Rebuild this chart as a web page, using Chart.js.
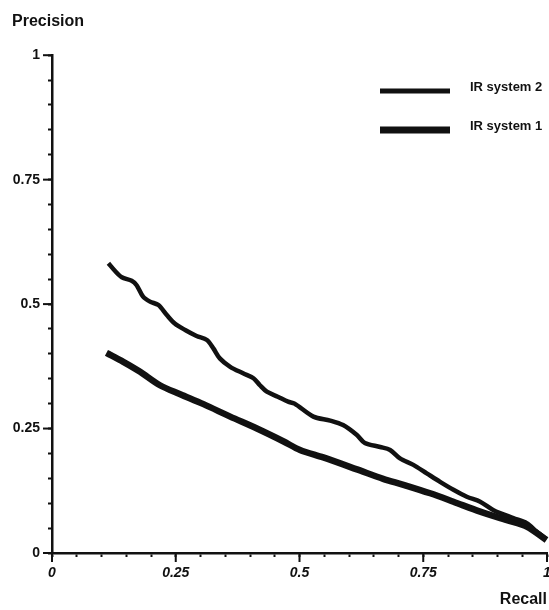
<!DOCTYPE html>
<html>
<head>
<meta charset="utf-8">
<script src="https://cdn.jsdelivr.net/npm/chart.js@4.4.1/dist/chart.umd.min.js"></script>
<style>
  html, body { margin: 0; padding: 0; background: #fff; }
  #wrap { width: 549px; height: 610px; }
</style>
</head>
<body>
<div id="wrap"><canvas id="pr"></canvas></div>
<script>
// Precision / recall curves for the two systems
const recall2 = [0.114, 0.127, 0.141, 0.161, 0.171, 0.184, 0.198, 0.215, 0.232, 0.248,
    0.269, 0.292, 0.313, 0.326, 0.339, 0.360, 0.386, 0.407, 0.420, 0.434,
    0.456, 0.477, 0.490, 0.528, 0.562, 0.588, 0.616, 0.632, 0.663, 0.683,
    0.703, 0.730, 0.757, 0.784, 0.811, 0.838, 0.865, 0.892, 0.932, 0.959,
    0.979, 0.999];
const precision2 = [0.582, 0.567, 0.554, 0.547, 0.538, 0.515, 0.505, 0.498, 0.478, 0.461,
    0.448, 0.436, 0.428, 0.411, 0.391, 0.374, 0.361, 0.351, 0.337, 0.324,
    0.314, 0.304, 0.300, 0.274, 0.266, 0.257, 0.237, 0.221, 0.213, 0.207,
    0.190, 0.177, 0.160, 0.143, 0.127, 0.113, 0.103, 0.086, 0.070, 0.060,
    0.043, 0.028];
const recall1 = [0.110, 0.144, 0.178, 0.218, 0.259, 0.306, 0.360, 0.414, 0.468, 0.501,
    0.548, 0.616, 0.669, 0.710, 0.764, 0.811, 0.865, 0.919, 0.959, 0.999];
const precision1 = [0.402, 0.384, 0.364, 0.337, 0.319, 0.299, 0.274, 0.250, 0.224, 0.207,
    0.192, 0.168, 0.149, 0.137, 0.120, 0.103, 0.083, 0.066, 0.053, 0.026];

const seriesLabels = ['IR system 2', 'IR system 1'];
const majorTicks = [0, 0.25, 0.5, 0.75, 1];
const tickLabels = ['0', '0.25', '0.5', '0.75', '1'];

const INK = '#111';
const FAMILY = '"Liberation Sans", Arial, sans-serif';

function toPoints(xs, ys) {
    return xs.map((x, i) => ({ x: x, y: ys[i] }));
}

function tickText(value) {
    const i = majorTicks.findIndex(t => Math.abs(t - value) < 1e-6);
    return i >= 0 ? tickLabels[i] : '';
}

// longer marks at the labelled ticks
const majorTickMarks = {
    id: 'majorTickMarks',
    afterDraw(chart) {
        const ctx = chart.ctx;
        const area = chart.chartArea;
        const xs = chart.scales.x;
        const ys = chart.scales.y;
        ctx.save();
        ctx.strokeStyle = INK;
        ctx.lineWidth = 2;
        majorTicks.forEach(v => {
            const px = xs.getPixelForValue(v);
            ctx.beginPath();
            ctx.moveTo(px, area.bottom);
            ctx.lineTo(px, area.bottom + 9);
            ctx.stroke();
            const py = ys.getPixelForValue(v);
            ctx.beginPath();
            ctx.moveTo(area.left, py);
            ctx.lineTo(area.left - 9, py);
            ctx.stroke();
        });
        ctx.restore();
    }
};

// legend drawn as line samples with labels, top right
const lineLegend = {
    id: 'lineLegend',
    afterDraw(chart) {
        const ctx = chart.ctx;
        ctx.save();
        chart.data.datasets.forEach((ds, i) => {
            const rowY = 91 + i * 39;
            ctx.strokeStyle = ds.borderColor;
            ctx.lineWidth = ds.borderWidth + 0.5;
            ctx.beginPath();
            ctx.moveTo(380, rowY);
            ctx.lineTo(450, rowY);
            ctx.stroke();
            ctx.fillStyle = INK;
            ctx.font = 'bold 13px ' + FAMILY;
            ctx.textBaseline = 'middle';
            ctx.textAlign = 'left';
            ctx.fillText(ds.label, 470, rowY - 4);
        });
        ctx.restore();
    }
};

const chart = new Chart(document.getElementById('pr'), {
    type: 'scatter',
    data: {
        datasets: [{
            label: seriesLabels[0],
            data: toPoints(recall2, precision2),
            showLine: true,
            borderColor: INK,
            borderWidth: 4.5,
            pointRadius: 0,
            tension: 0.3,
            borderJoinStyle: 'round',
            clip: false
        }, {
            label: seriesLabels[1],
            data: toPoints(recall1, precision1),
            showLine: true,
            borderColor: INK,
            borderWidth: 6.5,
            pointRadius: 0,
            tension: 0.3,
            borderJoinStyle: 'round',
            clip: false
        }]
    },
    options: {
        responsive: true,
        maintainAspectRatio: false,
        animation: false,
        layout: {
            padding: { left: 12, right: 2, top: 0, bottom: 0 }
        },
        plugins: {
            legend: { display: false },
            tooltip: { enabled: false },
            title: {
                display: true,
                text: 'Precision',
                align: 'start',
                color: INK,
                font: { family: FAMILY, size: 16, weight: 'bold' },
                padding: { top: 12, bottom: 24 }
            }
        },
        scales: {
            x: {
                type: 'linear',
                min: 0,
                max: 1,
                ticks: {
                    stepSize: 0.05,
                    autoSkip: false,
                    maxRotation: 0,
                    padding: 8,
                    color: INK,
                    font: { family: FAMILY, size: 14, weight: 'bold', style: 'italic' },
                    callback: tickText
                },
                grid: {
                    drawOnChartArea: false,
                    tickLength: 4,
                    tickColor: INK,
                    tickWidth: 2
                },
                border: { color: INK, width: 2.5 },
                title: {
                    display: true,
                    text: 'Recall',
                    align: 'end',
                    color: INK,
                    font: { family: FAMILY, size: 16, weight: 'bold' },
                    padding: { top: 0, bottom: 1 }
                },
                afterFit(scale) {
                    scale.height = 57;
                    scale.paddingLeft = 0;
                    scale.paddingRight = 0;
                }
            },
            y: {
                type: 'linear',
                min: 0,
                max: 1,
                ticks: {
                    stepSize: 0.05,
                    autoSkip: false,
                    padding: 8,
                    color: INK,
                    font: { family: FAMILY, size: 14, weight: 'bold' },
                    callback: tickText
                },
                grid: {
                    drawOnChartArea: false,
                    tickLength: 4,
                    tickColor: INK,
                    tickWidth: 2
                },
                border: { color: INK, width: 2.5 },
                afterFit(scale) {
                    scale.width = 40;
                    scale.paddingTop = 0;
                    scale.paddingBottom = 0;
                }
            }
        }
    },
    plugins: [majorTickMarks, lineLegend]
});
</script>
</body>
</html>
